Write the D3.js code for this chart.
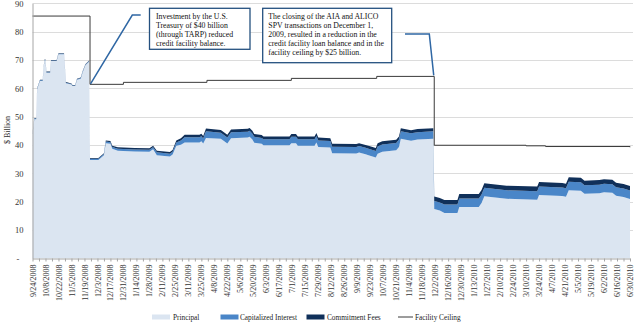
<!DOCTYPE html>
<html>
<head>
<meta charset="utf-8">
<script src="https://cdn.jsdelivr.net/npm/d3@7"></script>
<style>
  body { margin: 0; background: #fff; }
  svg { display: block; font-family: "Liberation Serif", "Times New Roman", serif; }
</style>
</head>
<body>
<svg id="chart" width="635" height="322"></svg>
<script>
// Federal Reserve credit facility to AIG, $ billion
const dates = [
  "2008-09-24","2008-09-25","2008-09-26","2008-09-28","2008-09-29","2008-09-30","2008-10-02","2008-10-05",
  "2008-10-06","2008-10-07","2008-10-08","2008-10-09","2008-10-13","2008-10-14","2008-10-20","2008-10-22",
  "2008-10-28","2008-10-30","2008-11-05","2008-11-06","2008-11-09","2008-11-11","2008-11-15","2008-11-17",
  "2008-11-20","2008-11-24","2008-11-25","2008-12-04","2008-12-10","2008-12-12","2008-12-17","2008-12-19",
  "2008-12-25","2009-01-12","2009-01-28","2009-02-01","2009-02-05","2009-02-19","2009-02-22","2009-02-26",
  "2009-03-03","2009-03-07","2009-03-23","2009-03-25","2009-03-27","2009-03-30","2009-04-15","2009-04-22",
  "2009-04-26","2009-05-14","2009-05-16","2009-05-19","2009-05-21","2009-05-29","2009-05-31","2009-06-28",
  "2009-06-30","2009-07-05","2009-07-07","2009-07-25","2009-07-27","2009-07-29","2009-08-11","2009-08-13",
  "2009-09-08","2009-09-11","2009-09-18","2009-09-22","2009-09-29","2009-10-01","2009-10-06","2009-10-21",
  "2009-10-24","2009-10-26","2009-11-06","2009-11-13","2009-11-30","2009-12-01","2009-12-07","2009-12-12",
  "2009-12-26","2009-12-28","2010-01-18","2010-01-21","2010-01-24","2010-01-31","2010-02-17","2010-03-22",
  "2010-03-24","2010-04-18","2010-04-22","2010-04-25","2010-05-08","2010-05-12","2010-05-28","2010-06-02",
  "2010-06-11","2010-06-15","2010-06-23","2010-06-30"
];
const principal = [
  43.6,46.6,49.1,49.1,59.6,60.6,62.6,62.6,
  67.3,69.8,69.8,65.5,65.5,69.6,69.6,72.0,
  72.0,61.8,61.3,60.8,60.8,63.0,63.4,65.6,
  68.1,69.4,34.7,34.7,36.4,40.6,40.4,38.7,
  38.0,37.7,37.6,38.5,36.4,35.9,36.6,39.7,
  40.1,40.9,40.9,41.3,40.5,42.5,42.2,40.5,
  42.4,42.6,42.9,41.9,40.8,40.4,39.9,39.9,
  40.6,40.6,39.7,39.7,40.9,39.3,39.1,37.1,
  37.0,37.3,36.7,36.3,35.6,36.9,37.6,38.1,
  39.3,42.2,41.5,41.9,42.2,17.4,16.9,16.0,
  16.0,18.1,18.1,19.5,21.9,21.6,21.0,20.7,
  22.3,22.0,21.7,24.0,23.8,22.8,23.0,23.3,
  23.1,22.1,21.6,20.9
];
const interest = [
  0.2,0.2,0.2,0.2,0.2,0.2,0.2,0.2,
  0.2,0.2,0.2,0.2,0.2,0.2,0.2,0.2,
  0.2,0.2,0.2,0.2,0.2,0.2,0.2,0.2,
  0.2,0.2,0.4,0.4,0.4,0.6,0.6,0.6,
  0.7,0.7,0.7,0.7,1.0,1.0,1.0,1.2,
  1.5,1.8,1.8,1.8,1.8,2.3,2.1,2.1,
  2.1,2.1,2.1,2.1,2.1,2.1,2.1,2.1,
  2.3,2.3,2.3,2.3,2.3,2.3,2.3,2.3,
  2.3,2.3,2.3,2.3,2.3,2.6,2.6,2.6,
  2.6,2.6,2.6,2.6,2.6,2.8,2.8,3.0,
  3.0,3.0,3.0,3.0,3.0,3.0,3.0,3.0,
  3.0,3.0,3.0,3.0,3.0,3.0,3.0,3.0,
  3.0,3.0,3.0,3.0
];
const fees = [
  0.2,0.2,0.2,0.2,0.2,0.2,0.2,0.2,
  0.2,0.2,0.2,0.2,0.2,0.2,0.2,0.2,
  0.2,0.2,0.2,0.2,0.2,0.2,0.2,0.2,
  0.2,0.2,0.3,0.3,0.3,0.4,0.4,0.4,
  0.5,0.5,0.5,0.5,0.6,0.6,0.6,0.7,
  0.8,0.9,0.9,0.9,0.9,1.0,1.0,1.0,
  1.0,1.0,1.0,1.0,1.0,1.0,1.0,1.0,
  1.0,1.0,1.0,1.0,1.0,1.0,1.0,1.0,
  1.0,1.0,1.0,1.0,1.0,1.1,1.1,1.1,
  1.1,1.1,1.1,1.1,1.1,1.6,1.6,1.6,
  1.6,1.6,1.6,1.6,1.6,1.6,1.6,1.6,
  1.6,1.6,1.6,1.6,1.6,1.6,1.6,1.6,
  1.6,1.6,1.6,1.6
];
// Facility ceiling (held until the next change date)
const ceilingDates = ["2008-09-24","2008-11-25","2008-12-31","2009-03-31","2009-06-30","2009-09-30",
                      "2009-12-01","2010-03-10","2010-03-31","2010-06-30"];
const ceilingValues = [85.5, 61.4, 62.1, 62.8, 63.5, 64.2, 39.9, 39.7, 39.45, 39.2];

const yTicks = [0, 10, 20, 30, 40, 50, 60, 70, 80, 90];
const seriesNames = ["Principal", "Capitalized Interest", "Commitment Fees"];
const seriesColors = ["#dbe5f1", "#4a86c8", "#10305a"];
const ceilingColor = "#3a3a3a";

const note1 = ["Investment by the U.S.", "Treasury of $40 billion", "(through TARP) reduced", "credit facility balance."];
const note2 = ["The closing of the AIA and ALICO", "SPV transactions on December 1,",
               "2009, resulted in a reduction in the", "credit facility loan balance and in the",
               "facility ceiling by $25 billion."];

const parse = d3.timeParse("%Y-%m-%d");
const svg = d3.select("#chart");

const start = parse("2008-09-24"), end = parse("2010-06-30");
const x = d3.scaleTime().domain([start, end]).range([32.5, 630]);
const y = d3.scaleLinear().domain([0, 90]).range([258.3, 3.3]);

// gridlines
svg.append("g").selectAll("line").data(yTicks.filter(d => d > 0)).join("line")
  .attr("x1", 32.5).attr("x2", 633)
  .attr("y1", d => Math.round(y(d)) + 0.5).attr("y2", d => Math.round(y(d)) + 0.5)
  .attr("stroke", "#dcdcdc").attr("stroke-width", 1);

// stacked areas
const rows = dates.map((d, i) => ({
  date: parse(d), principal: principal[i], interest: interest[i], fees: fees[i]
}));
const stack = d3.stack().keys(["principal", "interest", "fees"]);
const layers = stack(rows);
const area = d3.area()
  .x(d => x(d.data.date))
  .y0(d => y(d[0]))
  .y1(d => y(d[1]));
svg.append("g").selectAll("path").data(layers).join("path")
  .attr("d", area)
  .attr("fill", (d, i) => seriesColors[i]);

// facility ceiling
const ceil = ceilingDates.map((d, i) => ({ date: parse(d), v: ceilingValues[i] }));
svg.append("path")
  .datum(ceil)
  .attr("d", d3.line().x(d => x(d.date)).y(d => y(d.v)).curve(d3.curveStepAfter))
  .attr("fill", "none").attr("stroke", ceilingColor).attr("stroke-width", 1);

// y axis
const yAxis = d3.axisLeft(y).tickValues(yTicks).tickSize(0).tickPadding(9)
  .tickFormat(d => d === 0 ? "-\u00a0\u00a0" : d);
const gy = svg.append("g").attr("transform", "translate(32.5,0)").call(yAxis);
gy.select(".domain").attr("stroke", "#a6a6a6");
gy.selectAll("text").attr("font-size", "8.5px").attr("fill", "#333")
  .attr("font-family", "Liberation Serif, serif");

// x axis: weekly minor ticks, labels every two weeks
const weekTicks = d3.timeDay.range(start, d3.timeDay.offset(end, 1), 7);
const labelTicks = d3.timeDay.range(start, d3.timeDay.offset(end, 1), 14);
const gxMinor = svg.append("g").attr("transform", "translate(0,258.5)")
  .call(d3.axisBottom(x).tickValues(weekTicks).tickSize(3).tickSizeOuter(0).tickFormat(""));
gxMinor.select(".domain").attr("stroke", "#a6a6a6");
gxMinor.selectAll(".tick line").attr("stroke", "#a6a6a6");

const fmt = d3.timeFormat("%-m/%-d/%Y");
const gx = svg.append("g").attr("transform", "translate(0,258.5)")
  .call(d3.axisBottom(x).tickValues(labelTicks).tickSize(0).tickSizeOuter(0).tickFormat(fmt));
gx.select(".domain").remove();
gx.selectAll("text")
  .attr("font-size", "8px").attr("fill", "#333").attr("font-family", "Liberation Serif, serif")
  .attr("text-anchor", "end")
  .attr("transform", "rotate(-90)")
  .attr("x", -6).attr("y", 0).attr("dy", "0.32em");

// y title
svg.append("text")
  .attr("transform", "translate(10,130) rotate(-90)")
  .attr("text-anchor", "middle").attr("font-size", "8px").attr("fill", "#333")
  .text("$ Billion");

// callout 1: TARP investment
const c1 = [[x(parse("2008-11-25")) + 0.5, y(61.6)], [132.3, 15], [140.7, 15]];
svg.append("path").attr("d", d3.line()(c1))
  .attr("fill", "none").attr("stroke", "#2f67a4").attr("stroke-width", 1.5);
svg.append("rect").attr("x", 149.5).attr("y", 8.3).attr("width", 100.5).attr("height", 41)
  .attr("fill", "#fff").attr("stroke", "#24507f").attr("stroke-width", 1.3);
svg.append("g").selectAll("text").data(note1).join("text")
  .attr("x", 156).attr("y", (d, i) => 19.2 + i * 8.8)
  .attr("font-size", "7.8px").attr("fill", "#111").text(d => d);

// callout 2: AIA / ALICO closing
const c2 = [[405, 34], [429.3, 34], [x(parse("2009-12-01")) - 0.5, y(64.2) - 1]];
svg.append("path").attr("d", d3.line()(c2))
  .attr("fill", "none").attr("stroke", "#2f67a4").attr("stroke-width", 1.5);
svg.append("rect").attr("x", 262.7).attr("y", 8.3).attr("width", 129).attr("height", 54.4)
  .attr("fill", "#fff").attr("stroke", "#24507f").attr("stroke-width", 1.3);
svg.append("g").selectAll("text").data(note2).join("text")
  .attr("x", 268.3).attr("y", (d, i) => 18.8 + i * 9)
  .attr("font-size", "7.8px").attr("fill", "#111").text(d => d);

// legend
const legendItems = [
  { name: seriesNames[0], color: seriesColors[0], sx: 152, tx: 173, type: "box" },
  { name: seriesNames[1], color: seriesColors[1], sx: 220.5, tx: 240, type: "box" },
  { name: seriesNames[2], color: seriesColors[2], sx: 306.5, tx: 327, type: "box" },
  { name: "Facility Ceiling", color: ceilingColor, sx: 398, tx: 415, type: "line" }
];
const lg = svg.append("g");
legendItems.forEach(it => {
  if (it.type === "box") {
    lg.append("rect").attr("x", it.sx).attr("y", 314.5).attr("width", 18).attr("height", 5)
      .attr("fill", it.color);
  } else {
    lg.append("line").attr("x1", it.sx).attr("x2", it.sx + 15).attr("y1", 317).attr("y2", 317)
      .attr("stroke", it.color).attr("stroke-width", 1);
  }
  lg.append("text").attr("x", it.tx).attr("y", 319.5).attr("font-size", "7.3px").attr("fill", "#222")
    .text(it.name);
});
</script>
</body>
</html>
